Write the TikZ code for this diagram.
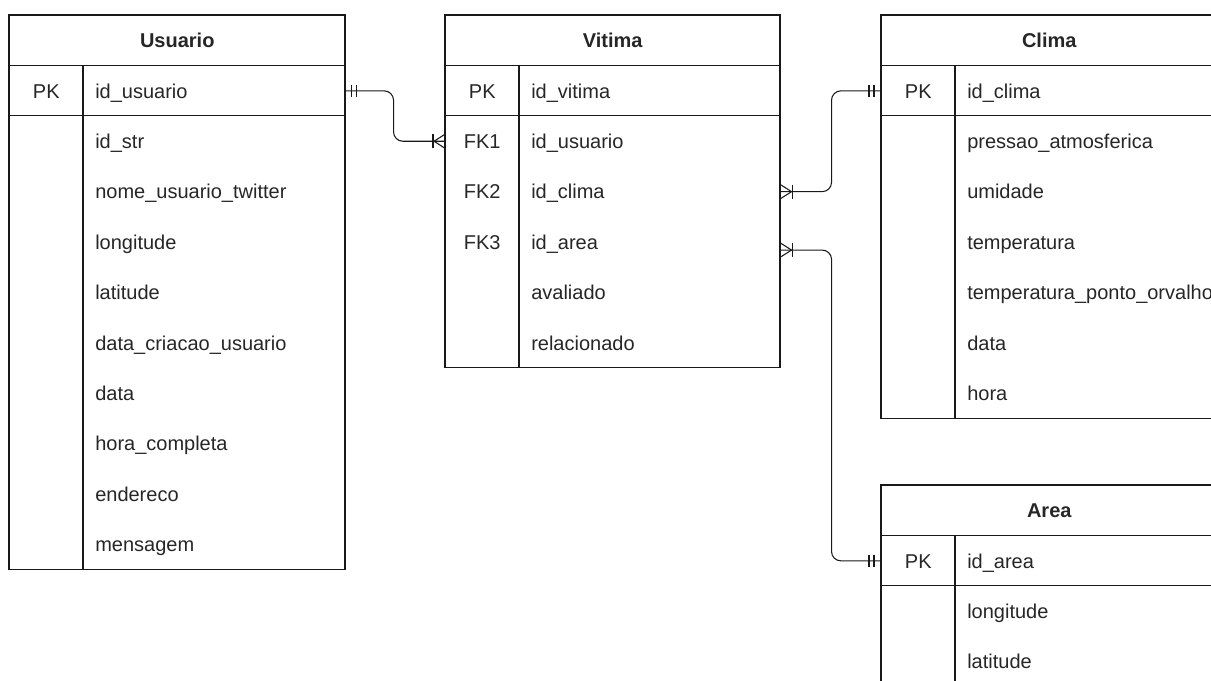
\documentclass[tikz,border=0pt]{standalone}
\usepackage{fontspec}
\setmainfont{Liberation Sans}
\usetikzlibrary{calc}

% One entity box: #1 name prefix, #2 left x, #3 top y, #4 width (px),
% #5 number of body rows, #6 title, #7 primary key field,
% #8 body rows as key/field pairs
\newcommand{\erentity}[8]{%
  \node[hdr, minimum width=#4*0.75pt] (#1) at (#2,#3) {#6};
  \node[keycell] (#1-k0) at (#2,#3+50.4) {PK};
  \node[fieldcell, text width=(#4-74)*0.75pt-18pt] (#1-f0) at (#2+74,#3+50.4) {#7};
  \foreach [count=\i] \k/\f in {#8} {
    \node[keycell] (#1-k\i) at (#2,#3+50.4+50.4*\i) {\k};
    \node[fieldcell, text width=(#4-74)*0.75pt-18pt] (#1-f\i) at (#2+74,#3+50.4+50.4*\i) {\f};
  }
  \draw[border] (#2,#3) rectangle (#2+#4,#3+50.4*#5+100.8);
  \draw[border] (#2,#3+50.4) -- (#2+#4,#3+50.4);
  \draw[border] (#2,#3+100.8) -- (#2+#4,#3+100.8);
  \draw[border] (#2+74,#3+50.4) -- (#2+74,#3+50.4*#5+100.8);
}

\begin{document}
\begin{tikzpicture}[x=0.75pt, y=-0.75pt,
  every node/.style={text=black!85, font=\fontsize{15pt}{18pt}\selectfont,
    text height=10.8pt, text depth=0pt},
  hdr/.style={anchor=north west, minimum height=37.8pt, inner sep=0pt,
    font=\fontsize{15pt}{18pt}\selectfont\bfseries},
  keycell/.style={anchor=north west, minimum width=55.5pt, minimum height=37.8pt, inner sep=0pt},
  fieldcell/.style={anchor=north west, minimum height=37.8pt, inner xsep=9pt, inner ysep=0pt, align=left},
  border/.style={draw=black!90, line width=0.9pt},
  conn/.style={draw=black!90, line width=0.8pt},
  link/.style={conn, rounded corners=7pt}]

\useasboundingbox (0,0) rectangle (1211,681);
\clip (0,0) rectangle (1211,681);

\erentity{u}{9}{15}{336}{9}{Usuario}{id\_usuario}{%
  {}/id\_str, {}/nome\_usuario\_twitter, {}/longitude, {}/latitude,
  {}/data\_criacao\_usuario, {}/data, {}/hora\_completa, {}/endereco, {}/mensagem}

\erentity{v}{445}{15}{335}{5}{Vitima}{id\_vitima}{%
  FK1/id\_usuario, FK2/id\_clima, FK3/id\_area, {}/avaliado, {}/relacionado}

\erentity{c}{881}{15}{336}{6}{Clima}{id\_clima}{%
  {}/pressao\_atmosferica, {}/umidade, {}/temperatura,
  {}/temperatura\_ponto\_orvalho, {}/data, {}/hora}

\erentity{a}{881}{485}{336}{3}{Area}{id\_area}{%
  {}/longitude, {}/latitude, {}/{}}

% Usuario (1) -- (N) Vitima
\draw[link] (u-f0.east) -- ++(48,0) |- (v-k1.west);
\draw[conn] ($(u-f0.east)+(6,-6)$) -- ++(0,12);
\draw[conn] ($(u-f0.east)+(11,-6)$) -- ++(0,12);
\draw[conn] ($(v-k1.west)+(-12,-7)$) -- ++(0,14);
\draw[conn] ($(v-k1.west)+(0,-7)$) -- ($(v-k1.west)+(-11,0)$) -- ($(v-k1.west)+(0,7)$);

% Vitima (N) -- (1) Clima
\draw[link] (v-f2.east) -- ++(51,0) |- (c-k0.west);
\draw[conn] ($(v-f2.east)+(12,-7)$) -- ++(0,14);
\draw[conn] ($(v-f2.east)+(0,-7)$) -- ($(v-f2.east)+(11,0)$) -- ($(v-f2.east)+(0,7)$);
\draw[conn] ($(c-k0.west)+(-7,-6)$) -- ++(0,12);
\draw[conn] ($(c-k0.west)+(-12,-6)$) -- ++(0,12);

% Vitima (N) -- (1) Area
\coordinate (v-area-out) at ([yshift=-6pt]v-f3.east);
\draw[link] (v-area-out) -- ++(51,0) |- (a-k0.west);
\draw[conn] ($(v-area-out)+(12,-7)$) -- ++(0,14);
\draw[conn] ($(v-area-out)+(0,-7)$) -- ($(v-area-out)+(11,0)$) -- ($(v-area-out)+(0,7)$);
\draw[conn] ($(a-k0.west)+(-7,-6)$) -- ++(0,12);
\draw[conn] ($(a-k0.west)+(-12,-6)$) -- ++(0,12);

\end{tikzpicture}
\end{document}
